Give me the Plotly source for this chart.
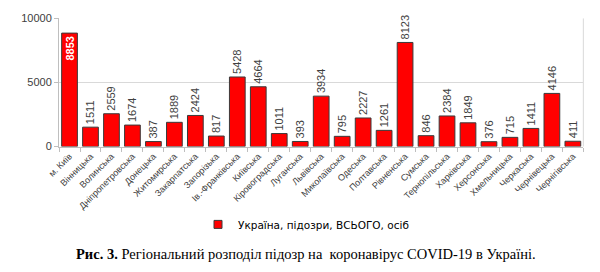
import plotly.graph_objects as go

categories = ["м. Київ", "Вінницька", "Волинська", "Дніпропетровська", "Донецька",
              "Житомирська", "Закарпатська", "Запорізька", "Ів.-Франківська", "Київська",
              "Кіровоградська", "Луганська", "Львівська", "Миколаївська", "Одеська",
              "Полтавська", "Рівненська", "Сумська", "Тернопільська", "Харківська",
              "Херсонська", "Хмельницька", "Черкаська", "Чернівецька", "Чернігівська"]
values = [8853, 1511, 2559, 1674, 387, 1889, 2424, 817, 5428, 4664,
          1011, 393, 3934, 795, 2227, 1261, 8123, 846, 2384, 1849,
          376, 715, 1411, 4146, 411]
series_name = "Україна, підозри, ВСЬОГО, осіб"
y_ticks = [0, 5000, 10000]
y_tick_labels = ["0", "5000", "10000"]
caption = "<b>Рис. 3.</b> Регіональний розподіл підозр на  коронавірус COVID-19 в Україні."

positions = ["inside" if v > 8500 else "outside" for v in values]
fonts_color = ["white" if v > 8500 else "#404040" for v in values]

fig = go.Figure()
fig.add_trace(go.Bar(
    x=categories, y=values, name=series_name, showlegend=False,
    marker=dict(color="#FF0000", line=dict(color="#3a3a3a", width=1)),
    text=[("<b>%d</b>" % v) if v > 8500 else str(v) for v in values],
    textposition=positions, textangle=-90,
    insidetextanchor="end",
    textfont=dict(family="Liberation Sans, Arial", size=11, color=fonts_color),
    constraintext="none", cliponaxis=False,
))
# legend entry with a small square swatch
fig.add_trace(go.Scatter(
    x=[None], y=[None], mode="markers", name=series_name,
    marker=dict(symbol="square", size=8, color="#FF0000",
                line=dict(color="#3a3a3a", width=1)),
))

fig.update_layout(
    width=600, height=272,
    margin=dict(l=0, r=0, t=0, b=0),
    paper_bgcolor="white", plot_bgcolor="white",
    bargap=0.25,
    showlegend=True,
    legend=dict(orientation="h", x=0.5, xanchor="center", y=0.16, yanchor="middle",
                font=dict(family="DejaVu Sans, Arial", size=10.5, color="#000000"),
                itemwidth=30, tracegroupgap=0),
    xaxis=dict(domain=[48/600, 583/600], tickangle=-45, tickson="boundaries",
               ticks="outside", ticklen=4, tickcolor="#bfbfbf",
               showline=True, linecolor="#bfbfbf", linewidth=1,
               tickfont=dict(family="Liberation Sans, Arial", size=9, color="#404040")),
    yaxis=dict(domain=[(272-147)/272, (272-13)/272], range=[0, 10000],
               tickvals=y_ticks, ticktext=y_tick_labels, ticks="outside", ticklen=4,
               tickcolor="#bfbfbf",
               showline=True, linecolor="#bfbfbf", linewidth=1,
               gridcolor="#d9d9d9", zeroline=False,
               tickfont=dict(family="Liberation Sans, Arial", size=11, color="#404040")),
    shapes=[dict(type="line", xref="paper", yref="paper",
                 x0=583/600, x1=583/600, y0=(272-147)/272, y1=(272-13)/272,
                 line=dict(color="#d9d9d9", width=1))],
    annotations=[dict(text=caption, xref="paper", yref="paper", x=0.5, y=0.045,
                      xanchor="center", yanchor="middle", showarrow=False,
                      font=dict(family="Liberation Serif, Times New Roman", size=14.5,
                                color="#000000"))],
)

fig.write_html("out.html")
